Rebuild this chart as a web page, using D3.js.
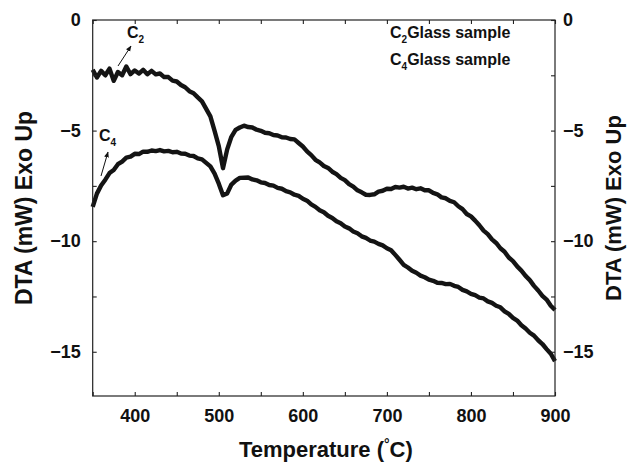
<!DOCTYPE html>
<html>
<head>
<meta charset="utf-8">
<script src="https://cdn.jsdelivr.net/npm/d3@7"></script>
<style>
  body { margin: 0; background: #fff; }
  svg text { font-family: "Liberation Sans", Arial, Helvetica, sans-serif; font-weight: bold; fill: #111; }
</style>
</head>
<body>
<svg id="chart" width="628" height="465"></svg>
<script>
"use strict"

// temperature samples (deg C)
const temps = [350,355,360,365,370,375,380,385,390,395,400,405,410,415,420,425,430,435,440,445,
  450,455,460,465,470,475,480,485,490,495,500,505,510,515,520,525,530,535,540,545,
  550,555,560,565,570,575,580,585,590,595,600,605,610,615,620,625,630,635,640,645,
  650,655,660,665,670,675,680,685,690,695,700,705,710,715,720,725,730,735,740,745,
  750,755,760,765,770,775,780,785,790,795,800,805,810,815,820,825,830,835,840,845,
  850,855,860,865,870,875,880,885,890,895,900]

// DTA signal (mW), C2 glass sample
const c2 = [-2.25,-2.60,-2.30,-2.50,-2.20,-2.75,-2.35,-2.50,-2.10,-2.45,-2.28,-2.42,-2.25,-2.45,-2.30,-2.46,-2.42,-2.58,-2.58,-2.74,
  -2.78,-2.94,-3.04,-3.22,-3.31,-3.50,-3.68,-4.02,-4.36,-5.01,-5.70,-6.70,-5.85,-5.28,-4.97,-4.86,-4.78,-4.84,-4.86,-4.96,
  -5.01,-5.10,-5.12,-5.20,-5.22,-5.30,-5.31,-5.38,-5.40,-5.56,-5.72,-5.94,-6.11,-6.32,-6.44,-6.60,-6.69,-6.86,-6.97,-7.14,
  -7.24,-7.42,-7.53,-7.70,-7.79,-7.90,-7.91,-7.88,-7.76,-7.72,-7.63,-7.64,-7.55,-7.58,-7.54,-7.62,-7.58,-7.65,-7.61,-7.70,
  -7.70,-7.82,-7.88,-8.02,-8.06,-8.18,-8.24,-8.42,-8.55,-8.77,-8.88,-9.07,-9.28,-9.52,-9.68,-9.92,-10.08,-10.32,-10.48,-10.74,
  -10.90,-11.14,-11.33,-11.57,-11.76,-12.02,-12.23,-12.47,-12.64,-12.92,-13.11]

// DTA signal (mW), C4 glass sample
const c4 = [-8.45,-7.85,-7.48,-7.22,-6.92,-6.78,-6.52,-6.40,-6.22,-6.18,-6.05,-6.06,-5.95,-5.96,-5.90,-5.93,-5.88,-5.94,-5.92,-5.98,
  -5.96,-6.04,-6.05,-6.13,-6.15,-6.26,-6.30,-6.46,-6.62,-6.95,-7.40,-7.92,-7.84,-7.44,-7.26,-7.14,-7.13,-7.12,-7.21,-7.25,
  -7.34,-7.37,-7.46,-7.49,-7.59,-7.63,-7.74,-7.79,-7.90,-7.95,-8.08,-8.17,-8.34,-8.45,-8.60,-8.69,-8.85,-8.95,-9.10,-9.19,
  -9.34,-9.42,-9.56,-9.64,-9.78,-9.85,-9.97,-10.02,-10.12,-10.19,-10.32,-10.41,-10.62,-10.84,-11.07,-11.19,-11.34,-11.43,-11.56,-11.63,
  -11.74,-11.79,-11.88,-11.89,-11.94,-11.93,-12.02,-12.07,-12.20,-12.27,-12.38,-12.44,-12.55,-12.59,-12.72,-12.79,-12.92,-12.99,-13.17,-13.29,
  -13.47,-13.59,-13.80,-13.95,-14.14,-14.27,-14.48,-14.65,-14.88,-15.09,-15.42]

const xTicks = [400, 500, 600, 700, 800, 900]
const xMinor = [350, 400, 450, 500, 550, 600, 650, 700, 750, 800, 850, 900]
const yTicks = [0, -5, -10, -15]
const yMinor = [0, -2.5, -5, -7.5, -10, -12.5, -15]

const margin = {left: 92.7, right: 73, top: 20, bottom: 69}
const W = 628, H = 465
const width = W - margin.left - margin.right
const height = H - margin.top - margin.bottom

const svg = d3.select("#chart")
const g = svg.append("g").attr("transform", "translate(" + margin.left + "," + margin.top + ")")

const x = d3.scaleLinear().domain([350, 900]).range([0, width])
const y = d3.scaleLinear().domain([-17, 0]).range([height, 0])

// curves
const line = d3.line()
    .x((d, i) => x(temps[i]))
    .y(d => y(d))

;[c2, c4].forEach(series => {
    g.append("path")
        .datum(series)
        .attr("d", line)
        .attr("fill", "none")
        .attr("stroke", "#141414")
        .attr("stroke-width", 4.4)
        .attr("stroke-linejoin", "round")
})

// frame
g.append("rect")
    .attr("width", width).attr("height", height)
    .attr("fill", "none").attr("stroke", "#222").attr("stroke-width", 1.2)

// inward ticks on all sides
const tickLen = 4
const axisStyle = sel => {
    sel.select(".domain").remove()
    sel.selectAll(".tick line").attr("stroke", "#222").attr("stroke-width", 1.1)
    sel.selectAll(".tick text").style("font-size", "18px").attr("fill", "#111")
}

g.append("g").attr("transform", "translate(0," + height + ")")
    .call(d3.axisBottom(x).tickValues(xMinor).tickSize(-tickLen).tickFormat(""))
    .call(axisStyle)
g.append("g")
    .call(d3.axisTop(x).tickValues(xMinor).tickSize(-tickLen).tickFormat(""))
    .call(axisStyle)
g.append("g")
    .call(d3.axisLeft(y).tickValues(yMinor).tickSize(-tickLen).tickFormat(""))
    .call(axisStyle)
g.append("g").attr("transform", "translate(" + width + ",0)")
    .call(d3.axisRight(y).tickValues(yMinor).tickSize(-tickLen).tickFormat(""))
    .call(axisStyle)

// labels
g.append("g").attr("transform", "translate(0," + height + ")")
    .call(d3.axisBottom(x).tickValues(xTicks).tickSize(0).tickPadding(10).tickFormat(d3.format("d")))
    .call(axisStyle)
    .selectAll(".tick text").attr("dy", "0.9em")
g.append("g")
    .call(d3.axisLeft(y).tickValues(yTicks).tickSize(0).tickPadding(12).tickFormat(d3.format("d")))
    .call(axisStyle)
g.append("g").attr("transform", "translate(" + width + ",0)")
    .call(d3.axisRight(y).tickValues(yTicks).tickSize(0).tickPadding(8).tickFormat(d3.format("d")))
    .call(axisStyle)

// axis titles
svg.append("text")
    .attr("transform", "translate(32," + (margin.top + height / 2) + ") rotate(-90)")
    .attr("text-anchor", "middle")
    .style("font-size", "23px")
    .text("DTA (mW) Exo Up")
svg.append("text")
    .attr("transform", "translate(621," + (margin.top + height / 2) + ") rotate(-90)")
    .attr("text-anchor", "middle")
    .style("font-size", "22px")
    .text("DTA (mW) Exo Up")

const xt = svg.append("text")
    .attr("x", margin.left + width / 2 + 2).attr("y", 457)
    .attr("text-anchor", "middle")
    .style("font-size", "22px")
xt.append("tspan").text("Temperature (")
xt.append("tspan").text("°").style("font-size", "14px").attr("dy", "-8")
xt.append("tspan").text("C)").attr("dy", "8")

// legend text
const legend = [["2", 38], ["4", 65]]
legend.forEach(([sub, ly]) => {
    const t = svg.append("text").attr("x", 390).attr("y", ly).style("font-size", "16px")
    t.append("tspan").text("C")
    t.append("tspan").text(sub).style("font-size", "10px").attr("dy", "5")
    t.append("tspan").text("Glass sample").attr("dy", "-5")
})

// curve annotations with arrows
svg.append("defs").append("marker")
    .attr("id", "arrow").attr("viewBox", "0 0 10 10")
    .attr("refX", 9).attr("refY", 5)
    .attr("markerWidth", 6).attr("markerHeight", 6)
    .attr("orient", "auto")
    .append("path").attr("d", "M0,1 L10,5 L0,9 Z").attr("fill", "#111")

const notes = [
    {sub: "2", tx: 127, ty: 38, x1: 118, y1: 66, x2: 131, y2: 46},
    {sub: "4", tx: 99, ty: 141, x1: 101, y1: 176, x2: 108, y2: 152}
]
notes.forEach(n => {
    const t = svg.append("text").attr("x", n.tx).attr("y", n.ty).style("font-size", "16px")
    t.append("tspan").text("C")
    t.append("tspan").text(n.sub).style("font-size", "10px").attr("dy", "5")
    svg.append("line")
        .attr("x1", n.x1).attr("y1", n.y1).attr("x2", n.x2).attr("y2", n.y2)
        .attr("stroke", "#111").attr("stroke-width", 1)
        .attr("marker-end", "url(#arrow)")
})
</script>
</body>
</html>
